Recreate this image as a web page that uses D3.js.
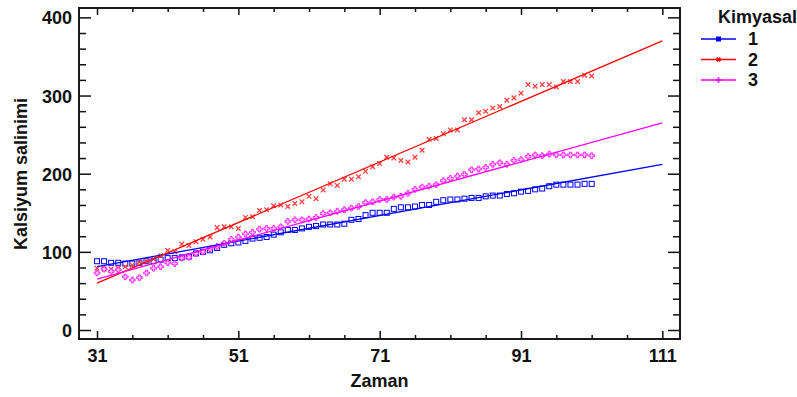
<!DOCTYPE html>
<html>
<head>
<meta charset="utf-8">
<script src="https://cdn.jsdelivr.net/npm/d3@7"></script>
<style>
  body { margin: 0; background: #fff; }
  svg { display: block; }
  text { font-family: "Liberation Sans", Arial, sans-serif; font-weight: bold; fill: #111; }
</style>
</head>
<body>
<div id="chart"></div>
<script>
// values
const zaman = [31, 32, 33, 34, 35, 36, 37, 38, 39, 40, 41, 42, 43, 44, 45, 46, 47, 48, 49, 50,
  51, 52, 53, 54, 55, 56, 57, 58, 59, 60, 61, 62, 63, 64, 65, 66, 67, 68, 69, 70,
  71, 72, 73, 74, 75, 76, 77, 78, 79, 80, 81, 82, 83, 84, 85, 86, 87, 88, 89, 90,
  91, 92, 93, 94, 95, 96, 97, 98, 99, 100, 101];

const kimyasal1 = [88, 88, 86, 86, 85, 85, 86, 88, 88, 90, 92, 92, 93, 94, 98, 100, 102, 105, 109, 111,
  112, 114, 117, 118, 119, 122, 125, 128, 128, 130, 132, 133, 135, 135, 135, 136, 141, 142, 147, 150,
  150, 150, 155, 157, 157, 158, 160, 160, 164, 166, 167, 167, 168, 169, 169, 171, 172, 172, 174, 175,
  177, 178, 180, 181, 184, 186, 186, 186, 186, 187, 187];

const kimyasal2 = [79, 78, 78, 79, 81, 83, 87, 88, 91, 95, 102, 100, 110, 108, 113, 116, 119, 131, 132, 132,
  130, 144, 145, 153, 154, 159, 160, 158, 162, 164, 171, 168, 179, 187, 185, 193, 193, 196, 203, 209,
  213, 221, 220, 217, 215, 221, 230, 244, 245, 251, 256, 256, 269, 269, 278, 280, 284, 286, 294, 297,
  303, 314, 312, 314, 314, 311, 318, 318, 318, 326, 325];

const kimyasal3 = [73, 78, 75, 77, 68, 64, 67, 73, 79, 81, 86, 85, 92, 93, 98, 100, 104, 107, 111, 116,
  119, 123, 125, 129, 130, 130, 132, 139, 141, 141, 142, 144, 149, 150, 152, 154, 156, 158, 163, 164,
  167, 167, 170, 171, 175, 180, 183, 184, 186, 191, 194, 197, 199, 205, 206, 208, 212, 214, 212, 217,
  218, 222, 224, 223, 225, 224, 224, 224, 224, 224, 223];

// fitted lines (end points)
const fitX = [31, 111];
const fit1 = [81, 212];
const fit2 = [60, 370];
const fit3 = [65, 265];

const xTicks = [31, 51, 71, 91, 111];
const yTicks = [0, 100, 200, 300, 400];
const seriesNames = ['1', '2', '3'];
const colors = ['#0000ff', '#ff0000', '#ff00ff'];

const width = 797, height = 397;
const frame = { left: 79, right: 680, top: 8, bottom: 339 };
const fontSize = '18px';

const svg = d3.select('#chart').append('svg')
  .attr('width', width)
  .attr('height', height);

const x = d3.scaleLinear().domain([28.45, 113.5]).range([frame.left, frame.right]);
const y = d3.scaleLinear().domain([-11.5, 412]).range([frame.bottom, frame.top]);

const xMinor = d3.range(31, 112, 5).filter(v => !xTicks.includes(v));
const yMinor = d3.range(0, 420, 20).filter(v => !yTicks.includes(v));

function styleAxis(g) {
  g.select('.domain').remove();
  g.selectAll('.tick line').attr('stroke', '#111').attr('stroke-width', 1.5);
  g.selectAll('.tick text').style('font-size', fontSize).attr('fill', '#111');
}

// left axis
svg.append('g').attr('transform', `translate(${frame.left},0)`)
  .call(d3.axisLeft(y).tickValues(yTicks).tickSizeInner(-12).tickSizeOuter(0).tickPadding(7))
  .call(styleAxis)
  .selectAll('.tick text').attr('dy', '0.36em');
svg.append('g').attr('transform', `translate(${frame.left},0)`)
  .call(d3.axisLeft(y).tickValues(yMinor).tickSizeInner(-7).tickSizeOuter(0).tickFormat(''))
  .call(styleAxis);

// right axis
svg.append('g').attr('transform', `translate(${frame.right},0)`)
  .call(d3.axisRight(y).tickValues(yTicks).tickSizeInner(-12).tickSizeOuter(0).tickFormat(''))
  .call(styleAxis);
svg.append('g').attr('transform', `translate(${frame.right},0)`)
  .call(d3.axisRight(y).tickValues(yMinor).tickSizeInner(-7).tickSizeOuter(0).tickFormat(''))
  .call(styleAxis);

// bottom axis
svg.append('g').attr('transform', `translate(0,${frame.bottom})`)
  .call(d3.axisBottom(x).tickValues(xTicks).tickSizeInner(-8).tickSizeOuter(0).tickPadding(10))
  .call(styleAxis);
svg.append('g').attr('transform', `translate(0,${frame.bottom})`)
  .call(d3.axisBottom(x).tickValues(xMinor).tickSizeInner(-4).tickSizeOuter(0).tickFormat(''))
  .call(styleAxis);

// top axis
svg.append('g').attr('transform', `translate(0,${frame.top})`)
  .call(d3.axisTop(x).tickValues(xTicks).tickSizeInner(-7).tickSizeOuter(0).tickFormat(''))
  .call(styleAxis);
svg.append('g').attr('transform', `translate(0,${frame.top})`)
  .call(d3.axisTop(x).tickValues(xMinor).tickSizeInner(-4).tickSizeOuter(0).tickFormat(''))
  .call(styleAxis);

// frame
svg.append('rect')
  .attr('x', frame.left).attr('y', frame.top)
  .attr('width', frame.right - frame.left).attr('height', frame.bottom - frame.top)
  .attr('fill', 'none').attr('stroke', '#1a1a1a').attr('stroke-width', 2);

svg.append('clipPath').attr('id', 'clip')
  .append('rect').attr('x', frame.left).attr('y', frame.top)
  .attr('width', frame.right - frame.left).attr('height', frame.bottom - frame.top);

const plot = svg.append('g').attr('clip-path', 'url(#clip)');

const cross = d3.symbol().type(d3.symbolCross).size(18);
const xMark = 'M-2.3,-2.3L2.3,2.3M-2.3,2.3L2.3,-2.3';

// points
const pts1 = zaman.map((t, i) => [t, kimyasal1[i]]);
const pts2 = zaman.map((t, i) => [t, kimyasal2[i]]);
const pts3 = zaman.map((t, i) => [t, kimyasal3[i]]);

plot.append('g').selectAll('rect').data(pts1).enter().append('rect')
  .attr('x', d => x(d[0]) - 2.5)
  .attr('y', d => y(d[1]) - 2.5)
  .attr('width', 5).attr('height', 5)
  .attr('fill', 'none').attr('stroke', colors[0]).attr('stroke-width', 1);

plot.append('g').selectAll('path').data(pts2).enter().append('path')
  .attr('d', xMark)
  .attr('transform', d => `translate(${x(d[0])},${y(d[1])})`)
  .attr('fill', 'none').attr('stroke', '#ff4040').attr('stroke-width', 1.3);

plot.append('g').selectAll('path').data(pts3).enter().append('path')
  .attr('d', cross)
  .attr('transform', d => `translate(${x(d[0])},${y(d[1])})`)
  .attr('fill', '#ffc8ff').attr('stroke', colors[2]).attr('stroke-width', 0.8);

// fitted lines
const line = d3.line().x(d => x(d[0])).y(d => y(d[1]));
[fit1, fit2, fit3].forEach((f, i) => {
  plot.append('path')
    .datum(fitX.map((t, j) => [t, f[j]]))
    .attr('d', line)
    .attr('fill', 'none')
    .attr('stroke', colors[i])
    .attr('stroke-width', 1.3);
});

// axis titles
svg.append('text')
  .attr('x', (frame.left + frame.right) / 2).attr('y', 387)
  .attr('text-anchor', 'middle')
  .style('font-size', fontSize)
  .text('Zaman');

svg.append('text')
  .attr('transform', 'translate(27,174) rotate(-90)')
  .attr('text-anchor', 'middle')
  .style('font-size', fontSize)
  .text('Kalsiyum salinimi');

// legend
const legend = svg.append('g');
legend.append('text')
  .attr('x', 718).attr('y', 23)
  .style('font-size', fontSize)
  .text('Kimyasal');

seriesNames.forEach((name, i) => {
  const ly = 39 + i * 20.5;
  const item = legend.append('g');
  item.append('line')
    .attr('x1', 701).attr('x2', 736)
    .attr('y1', ly).attr('y2', ly)
    .attr('stroke', colors[i]).attr('stroke-width', 1.5);
  if (i === 0) {
    item.append('rect').attr('x', 716).attr('y', ly - 2.5).attr('width', 5).attr('height', 5)
      .attr('fill', colors[i]);
  } else {
    item.append('path')
      .attr('d', d3.symbol().type(d3.symbolCross).size(16))
      .attr('transform', `translate(718.5,${ly})` + (i === 1 ? ' rotate(45)' : ''))
      .attr('fill', colors[i]);
  }
  item.append('text')
    .attr('x', 748).attr('y', ly + 6)
    .style('font-size', fontSize)
    .text(name);
});
</script>
</body>
</html>
